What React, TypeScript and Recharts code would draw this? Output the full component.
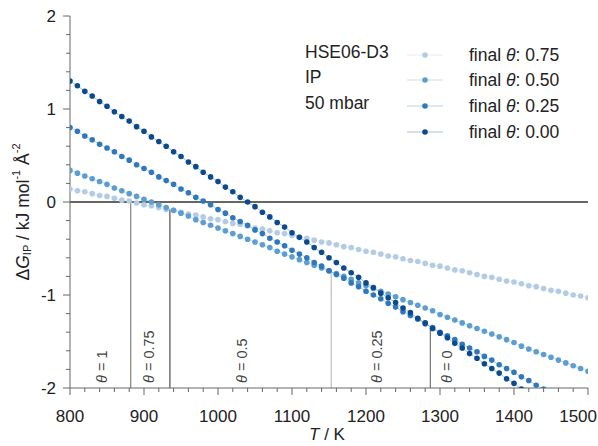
import React from "react";
import {
  LineChart,
  Line,
  XAxis,
  YAxis,
  ReferenceLine,
  ReferenceDot,
} from "recharts";

// temperature grid (K)
const temps = [
  800, 810, 820, 830, 840, 850, 860, 870, 880, 890, 900, 910, 920, 930, 940,
  950, 960, 970, 980, 990, 1000, 1010, 1020, 1030, 1040, 1050, 1060, 1070,
  1080, 1090, 1100, 1110, 1120, 1130, 1140, 1150, 1160, 1170, 1180, 1190,
  1200, 1210, 1220, 1230, 1240, 1250, 1260, 1270, 1280, 1290, 1300, 1310,
  1320, 1330, 1340, 1350, 1360, 1370, 1380, 1390, 1400, 1410, 1420, 1430,
  1440, 1450, 1460, 1470, 1480, 1490, 1500,
];

// ΔG_IP (kJ mol-1 Å-2) per final coverage
const theta075 = [
  0.14, 0.12, 0.11, 0.09, 0.07, 0.06, 0.04, 0.02, 0.01, -0.01, -0.03, -0.04,
  -0.06, -0.08, -0.09, -0.11, -0.13, -0.14, -0.16, -0.18, -0.19, -0.21, -0.23,
  -0.24, -0.26, -0.28, -0.29, -0.31, -0.33, -0.34, -0.36, -0.38, -0.39, -0.41,
  -0.43, -0.44, -0.46, -0.48, -0.49, -0.51, -0.53, -0.54, -0.56, -0.58, -0.59,
  -0.61, -0.63, -0.64, -0.66, -0.68, -0.69, -0.71, -0.73, -0.74, -0.76, -0.78,
  -0.8, -0.81, -0.83, -0.85, -0.86, -0.88, -0.9, -0.91, -0.93, -0.95, -0.96,
  -0.98, -1.0, -1.01, -1.03,
];
const theta050 = [
  0.34, 0.31, 0.28, 0.25, 0.22, 0.19, 0.15, 0.12, 0.09, 0.06, 0.03, 0.0, -0.03,
  -0.06, -0.09, -0.12, -0.15, -0.19, -0.22, -0.25, -0.28, -0.31, -0.34, -0.37,
  -0.4, -0.43, -0.46, -0.49, -0.53, -0.56, -0.59, -0.62, -0.65, -0.68, -0.71,
  -0.74, -0.77, -0.8, -0.83, -0.87, -0.9, -0.93, -0.96, -0.99, -1.02, -1.05,
  -1.08, -1.11, -1.14, -1.17, -1.21, -1.24, -1.27, -1.3, -1.33, -1.36, -1.39,
  -1.42, -1.45, -1.48, -1.51, -1.55, -1.58, -1.61, -1.64, -1.67, -1.7, -1.73,
  -1.76, -1.79, -1.82,
];
const theta025 = [
  0.8, 0.76, 0.71, 0.67, 0.62, 0.58, 0.54, 0.49, 0.45, 0.4, 0.36, 0.32, 0.27,
  0.23, 0.19, 0.14, 0.1, 0.05, 0.01, -0.03, -0.08, -0.12, -0.17, -0.21, -0.25,
  -0.3, -0.34, -0.39, -0.43, -0.47, -0.52, -0.56, -0.6, -0.65, -0.69, -0.74,
  -0.78, -0.82, -0.87, -0.91, -0.96, -1.0, -1.04, -1.09, -1.13, -1.18, -1.22,
  -1.26, -1.31, -1.35, -1.4, -1.44, -1.48, -1.53, -1.57, -1.61, -1.66, -1.7,
  -1.75, -1.79, -1.83, -1.88, -1.92, -1.97, -2.01, null, null, null, null,
  null, null,
];
const theta000 = [
  1.3, 1.25, 1.19, 1.14, 1.08, 1.03, 0.97, 0.92, 0.87, 0.81, 0.76, 0.7, 0.65,
  0.6, 0.54, 0.49, 0.43, 0.38, 0.32, 0.27, 0.22, 0.16, 0.11, 0.05, 0.0, -0.05,
  -0.11, -0.16, -0.22, -0.27, -0.33, -0.38, -0.43, -0.49, -0.54, -0.6, -0.65,
  -0.71, -0.76, -0.81, -0.87, -0.92, -0.98, -1.03, -1.08, -1.14, -1.19, -1.25,
  -1.3, -1.36, -1.41, -1.46, -1.52, -1.57, -1.63, -1.68, -1.74, -1.79, -1.84,
  -1.9, -1.95, -2.01, null, null, null, null, null, null, null, null, null,
];

const seriesNames = ["0.75", "0.50", "0.25", "0.00"];
const seriesColors = ["#b4cbe4", "#5c9dd2", "#2f78bb", "#0c4a8e"];

// phase boundaries (T where the stable coverage changes) and their top ends
const boundaryT = [882, 935, 1153, 1287];
const boundaryTop = [0, -0.08, -0.75, -1.35];
const boundaryColors = ["#8c8c8c", "#5a5a5a", "#c4c4c4", "#7a7a7a"];

const phaseLabels = ["1", "0.75", "0.5", "0.25", "0"];
const phaseLabelT = [843, 907, 1032, 1215, 1310];

const xTicks = [
  800, 820, 840, 860, 880, 900, 920, 940, 960, 980, 1000, 1020, 1040, 1060,
  1080, 1100, 1120, 1140, 1160, 1180, 1200, 1220, 1240, 1260, 1280, 1300,
  1320, 1340, 1360, 1380, 1400, 1420, 1440, 1460, 1480, 1500,
];
const yTicks = [
  -2, -1.8, -1.6, -1.4, -1.2, -1, -0.8, -0.6, -0.4, -0.2, 0, 0.2, 0.4, 0.6,
  0.8, 1, 1.2, 1.4, 1.6, 1.8, 2,
];

const data = temps.map((T, i) => ({
  T,
  s0: theta075[i],
  s1: theta050[i],
  s2: theta025[i],
  s3: theta000[i],
}));

const FONT = "'Liberation Sans', Arial, sans-serif";

const XTick = (props: any) => {
  const { x, y, payload } = props;
  const major = payload.value % 100 === 0;
  // last label is pulled inside the picture edge
  const last = payload.value === 1500;
  return (
    <g>
      <line x1={x} x2={x} y1={y} y2={y + (major ? 7 : 4)} stroke="#666" />
      {major && (
        <text
          x={last ? 597 : x}
          y={y + 34}
          textAnchor={last ? "end" : "middle"}
          fontSize={17}
          fill="#222"
          fontFamily={FONT}
        >
          {payload.value}
        </text>
      )}
    </g>
  );
};

const YTick = (props: any) => {
  const { x, y, payload } = props;
  const major = Number.isInteger(payload.value);
  return (
    <g>
      <line x1={x - (major ? 7 : 4)} x2={x} y1={y} y2={y} stroke="#666" />
      {major && (
        <text x={x - 14} y={y} textAnchor="end" dominantBaseline="central" fontSize={17} fill="#222" fontFamily={FONT}>
          {payload.value}
        </text>
      )}
    </g>
  );
};

const PhaseLabel = (label: string) => (props: any) => {
  const { cx, cy } = props;
  if (cx == null || cy == null) return <g />;
  const y = cy - 5;
  return (
    <text
      x={cx}
      y={y}
      transform={`rotate(-90 ${cx} ${y})`}
      dominantBaseline="central"
      fontSize={14.5}
      fill="#444"
      fontFamily={FONT}
    >
      <tspan fontStyle="italic">θ</tspan> = {label}
    </text>
  );
};

const legendRows = [55, 80, 106, 132];
const infoLines = ["HSE06-D3", "IP", "50 mbar"];
const infoRows = [58, 83, 109];

export default function App() {
  return (
    <div style={{ position: "absolute", left: 0, top: 0, width: 598, height: 446, background: "#fff" }}>
      <LineChart
        width={598}
        height={446}
        data={data}
        margin={{ top: 16, right: 10, bottom: 28, left: 0 }}
      >
        <XAxis
          dataKey="T"
          type="number"
          domain={[800, 1500]}
          ticks={xTicks}
          interval={0}
          allowDataOverflow
          height={30}
          tickLine={false}
          tickSize={0}
          tickMargin={0}
          stroke="#666"
          tick={<XTick />}
          label={{
            content: () => (
              <text x={327} y={440} textAnchor="middle" fontSize={17} fill="#222" fontFamily={FONT}>
                <tspan fontStyle="italic">T</tspan> / K
              </text>
            ),
          }}
        />
        <YAxis
          type="number"
          domain={[-2, 2]}
          ticks={yTicks}
          interval={0}
          allowDataOverflow
          width={70}
          tickLine={false}
          tickSize={0}
          tickMargin={0}
          stroke="#666"
          tick={<YTick />}
          label={{
            content: () => (
              <text
                x={23}
                y={212}
                transform="rotate(-90 23 212)"
                textAnchor="middle"
                dominantBaseline="central"
                fontSize={17.5}
                fill="#222"
                fontFamily={FONT}
              >
                Δ<tspan fontStyle="italic">G</tspan>
                <tspan fontSize={11} dy={4}>IP</tspan>
                <tspan dy={-4}> / kJ mol</tspan>
                <tspan fontSize={11} dy={-7}>-1</tspan>
                <tspan dy={7}> Å</tspan>
                <tspan fontSize={11} dy={-7}>-2</tspan>
              </text>
            ),
          }}
        />
        <ReferenceLine y={0} stroke="#333" strokeWidth={1.3} />
        {boundaryT.map((t, i) => (
          <ReferenceLine
            key={`b${i}`}
            segment={[
              { x: t, y: -2 },
              { x: t, y: boundaryTop[i] },
            ]}
            stroke={boundaryColors[i]}
            strokeWidth={1.3}
          />
        ))}
        {phaseLabels.map((lab, i) => (
          <ReferenceDot
            key={`p${i}`}
            x={phaseLabelT[i]}
            y={-2}
            r={0}
            shape={PhaseLabel(lab)}
          />
        ))}
        {["s0", "s1", "s2", "s3"].map((k, i) => (
          <Line
            key={k}
            dataKey={k}
            type="linear"
            stroke={seriesColors[i]}
            strokeOpacity={0.35}
            strokeWidth={1}
            dot={{ r: 2.8, fill: seriesColors[i], stroke: "none" }}
            isAnimationActive={false}
            connectNulls={false}
          />
        ))}
      </LineChart>
      <svg
        width={598}
        height={446}
        style={{ position: "absolute", left: 0, top: 0, pointerEvents: "none" }}
      >
        {infoLines.map((t, i) => (
          <text key={t} x={305} y={infoRows[i]} fontSize={17.5} fill="#222" fontFamily={FONT}>
            {t}
          </text>
        ))}
        {seriesNames.map((n, i) => (
          <g key={n}>
            <line
              x1={407}
              x2={443}
              y1={legendRows[i]}
              y2={legendRows[i]}
              stroke={seriesColors[i]}
              strokeOpacity={0.35}
              strokeWidth={1.2}
            />
            <circle cx={425} cy={legendRows[i]} r={2.8} fill={seriesColors[i]} />
            <text x={469} y={legendRows[i] + 6} fontSize={17.5} fill="#222" fontFamily={FONT}>
              final <tspan fontStyle="italic">θ</tspan>: {n}
            </text>
          </g>
        ))}
      </svg>
    </div>
  );
}
